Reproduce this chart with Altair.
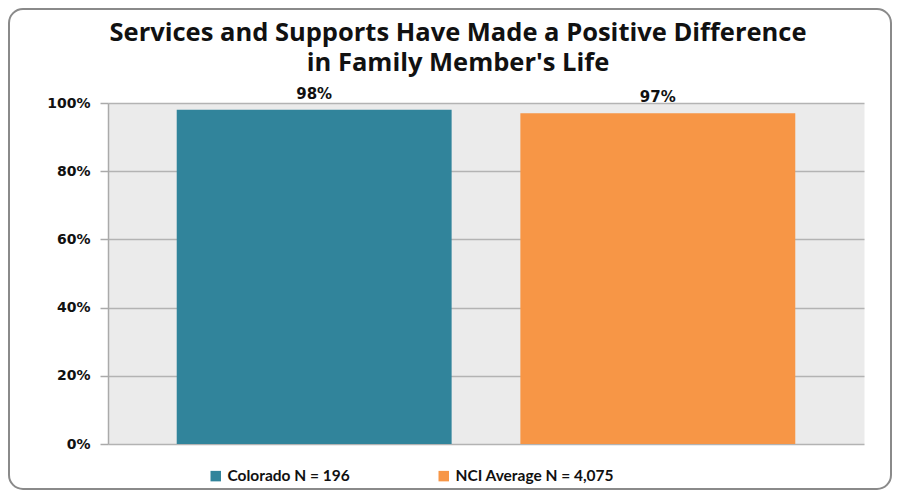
import altair as alt
import pandas as pd

categories = ["Colorado N = 196", "NCI Average N = 4,075"]
values = [0.98, 0.97]
labels = ["98%", "97%"]
colors = ["#31849B", "#F79646"]
title_lines = ["Services and Supports Have Made a Positive Difference",
               "in Family Member's Life"]

df = pd.DataFrame({"group": categories, "value": values, "label": labels})

FONT = "Lato"
TFONT = "Open Sans"
NUMFONT = "DejaVu Sans"

x = alt.X("group:N", axis=None, sort=categories,
          scale=alt.Scale(paddingInner=0.2, paddingOuter=0.2))

bars = alt.Chart(df).mark_bar().encode(
    x=x,
    y=alt.Y("value:Q", scale=alt.Scale(domain=[0, 1]),
            axis=alt.Axis(format="%", values=[0, 0.2, 0.4, 0.6, 0.8, 1.0],
                          title=None, labelFont=NUMFONT, labelFontWeight="bold",
                          labelFontSize=14, labelColor="#111111",
                          tickSize=8, tickColor="#aaaaaa", tickWidth=1.5,
                          labelPadding=10, domainColor="#aaaaaa", domainWidth=1.5,
                          grid=True, gridColor="#b3b3b3", gridWidth=1.5)),
    color=alt.Color("group:N", sort=categories,
                    scale=alt.Scale(domain=categories, range=colors),
                    legend=alt.Legend(title=None, orient="none", direction="horizontal",
                                      legendX=100, legendY=365,
                                      symbolType="square", symbolSize=110,
                                      symbolStrokeWidth=0, labelFont=FONT,
                                      labelFontWeight="bold", labelFontSize=15.5,
                                      labelColor="#111111", labelOffset=4,
                                      columnPadding=86, labelLimit=400)),
)

text = alt.Chart(df).mark_text(baseline="bottom", dy=-8, font=NUMFONT,
                               fontWeight="bold", fontSize=15,
                               color="#111111").encode(
    x=x, y="value:Q", text="label:N")

title_df = pd.DataFrame({"t": title_lines})
title1 = alt.Chart(title_df.iloc[[0]]).mark_text(
    font=TFONT, fontSize=25.5, fontWeight="bold", color="#111111",
    baseline="alphabetic", align="center"
).encode(text="t:N", x=alt.value(350), y=alt.value(-62))
title2 = alt.Chart(title_df.iloc[[1]]).mark_text(
    font=TFONT, fontSize=25.5, fontWeight="bold", color="#111111",
    baseline="alphabetic", align="center"
).encode(text="t:N", x=alt.value(350), y=alt.value(-32))

frame = alt.Chart(pd.DataFrame({"a": [0]})).mark_rect(
    fill="transparent", stroke="#8a8a8a", strokeWidth=2, cornerRadius=14
).encode(x=alt.value(-99), x2=alt.value(783), y=alt.value(-94), y2=alt.value(386))

chart = alt.layer(frame, bars, text, title1, title2).properties(
    width=756, height=341,
    padding={"left": 100, "top": 95, "right": 28, "bottom": 46},
    autosize=alt.AutoSizeParams(type="none"),
).configure_view(fill="#EBEBEB", stroke="transparent")

chart.save("out.html", embed_options={"renderer": "svg", "actions": False})
